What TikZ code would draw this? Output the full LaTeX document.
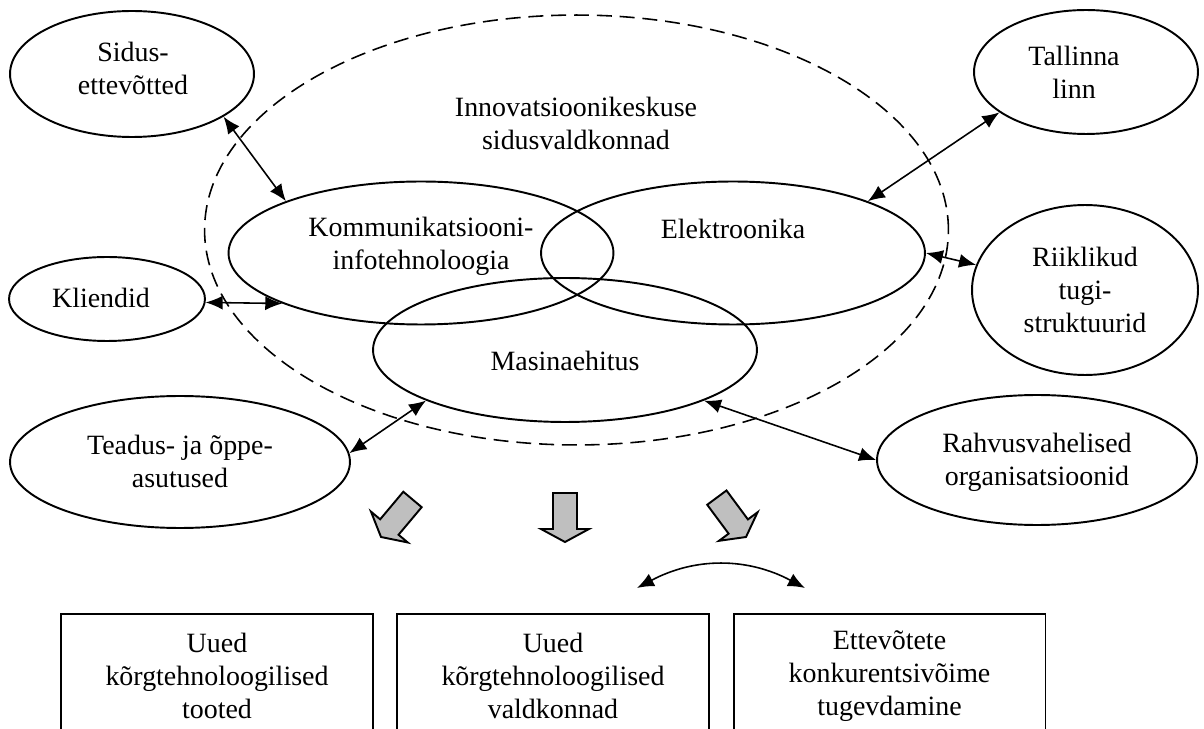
\documentclass[tikz,border=0pt]{standalone}
\usepackage{fontspec}
\setmainfont{Liberation Serif}
\usetikzlibrary{arrows.meta,shapes.geometric}
\begin{document}
\begin{tikzpicture}[x=0.02cm,y=-0.02cm,
  font=\fontsize{15.9}{18.8}\selectfont,
  ell/.style={draw, ellipse, line width=1.1pt, inner sep=0pt},
  outerell/.style={draw, ellipse, line width=0.9pt, dash pattern=on 8.5pt off 4.5pt, inner sep=0pt},
  lbl/.style={align=center, inner sep=0pt},
  conn/.style={{Latex[length=0.34cm,width=0.28cm]}-{Latex[length=0.34cm,width=0.28cm]}, line width=0.9pt},
  resbox/.style={draw, rectangle, line width=1.1pt, minimum width=6.24cm, minimum height=2.48cm, anchor=north, align=center, inner sep=0pt},
  blk/.style={draw, fill=black!25, line width=1.1pt, line join=miter}]
\useasboundingbox (0,0) rectangle (1204,729);
\clip (0,0) rectangle (1204,729);

% central field
\node[outerell, minimum width=14.88cm, minimum height=8.6cm] (outer) at (576.5,230) {};
\node[lbl] (title) at (576,123) {Innovatsioonikeskuse\\sidusvaldkonnad};

\node[ell, minimum width=7.7cm, minimum height=2.86cm] (komm) at (421,253) {};
\node[lbl] (kommt) at (421,246) {Kommunikatsiooni-\\infotehnoloogia};
\node[ell, minimum width=7.68cm, minimum height=2.86cm] (elek) at (733,253) {};
\node[lbl] (elekt) at (733,229) {Elektroonika};
\node[ell, minimum width=7.68cm, minimum height=2.88cm] (mas) at (565,350) {};
\node[lbl] (mast) at (565,361) {Masinaehitus};

% partners
\node[ell, minimum width=4.88cm, minimum height=2.52cm] (sidus) at (132,74) {};
\node[lbl] (sidust) at (133,68) {Sidus-\\ettevõtted};
\node[ell, minimum width=4.48cm, minimum height=2.48cm] (tln) at (1086,72) {};
\node[lbl] (tlnt) at (1074,72) {Tallinna\\linn};
\node[ell, minimum width=3.92cm, minimum height=1.68cm] (kl) at (107,299) {};
\node[lbl] (klt) at (101,298) {Kliendid};
\node[ell, minimum width=4.52cm, minimum height=3.4cm] (riik) at (1085,290) {};
\node[lbl] (riikt) at (1085,290) {Riiklikud\\tugi-\\struktuurid};
\node[ell, minimum width=6.8cm, minimum height=2.64cm] (tea) at (180,462) {};
\node[lbl] (teat) at (180,461) {Teadus- ja õppe-\\asutused};
\node[ell, minimum width=6.4cm, minimum height=2.6cm] (rahv) at (1037,460) {};
\node[lbl] (rahvt) at (1037,462) {Rahvusvahelised\\organisatsioonid};

% connectors
\draw[conn] (sidus.-25) -- (komm.159);
\draw[conn] (kl.-2) -- (komm.200);
\draw[conn] (tln.205.5) -- (elek.21);
\draw[conn] (elek.0) -- (riik.167);
\draw[conn] (tea.3) -- (mas.200.5);
\draw[conn] (mas.340) -- (rahv.180);

% block arrows
\draw[blk, shift={(381,537)}, rotate=-40] (-12,-49) -- (12,-49) -- (12,-13) -- (24,-13) -- (0,0) -- (-24,-13) -- (-12,-13) -- cycle;
\draw[blk, shift={(565,542)}] (-12,-49) -- (12,-49) -- (12,-13) -- (24,-13) -- (0,0) -- (-24,-13) -- (-12,-13) -- cycle;
\draw[blk, shift={(746,537)}, rotate=36.5] (-12,-49) -- (12,-49) -- (12,-13) -- (24,-13) -- (0,0) -- (-24,-13) -- (-12,-13) -- cycle;

% curved arrow
\coordinate (cl) at (637,588);
\coordinate (cr) at (805,588);
\draw[conn] (cl) to[bend left=28] (cr);

% results
\node[resbox] (r1) at (217,613) {Uued\\kõrgtehnoloogilised\\tooted};
\node[resbox] (r2) at (553,613) {Uued\\kõrgtehnoloogilised\\valdkonnad};
\node[resbox] (r3) at (889.5,613) {Ettevõtete\\konkurentsivõime\\tugevdamine};
\end{tikzpicture}
\end{document}
